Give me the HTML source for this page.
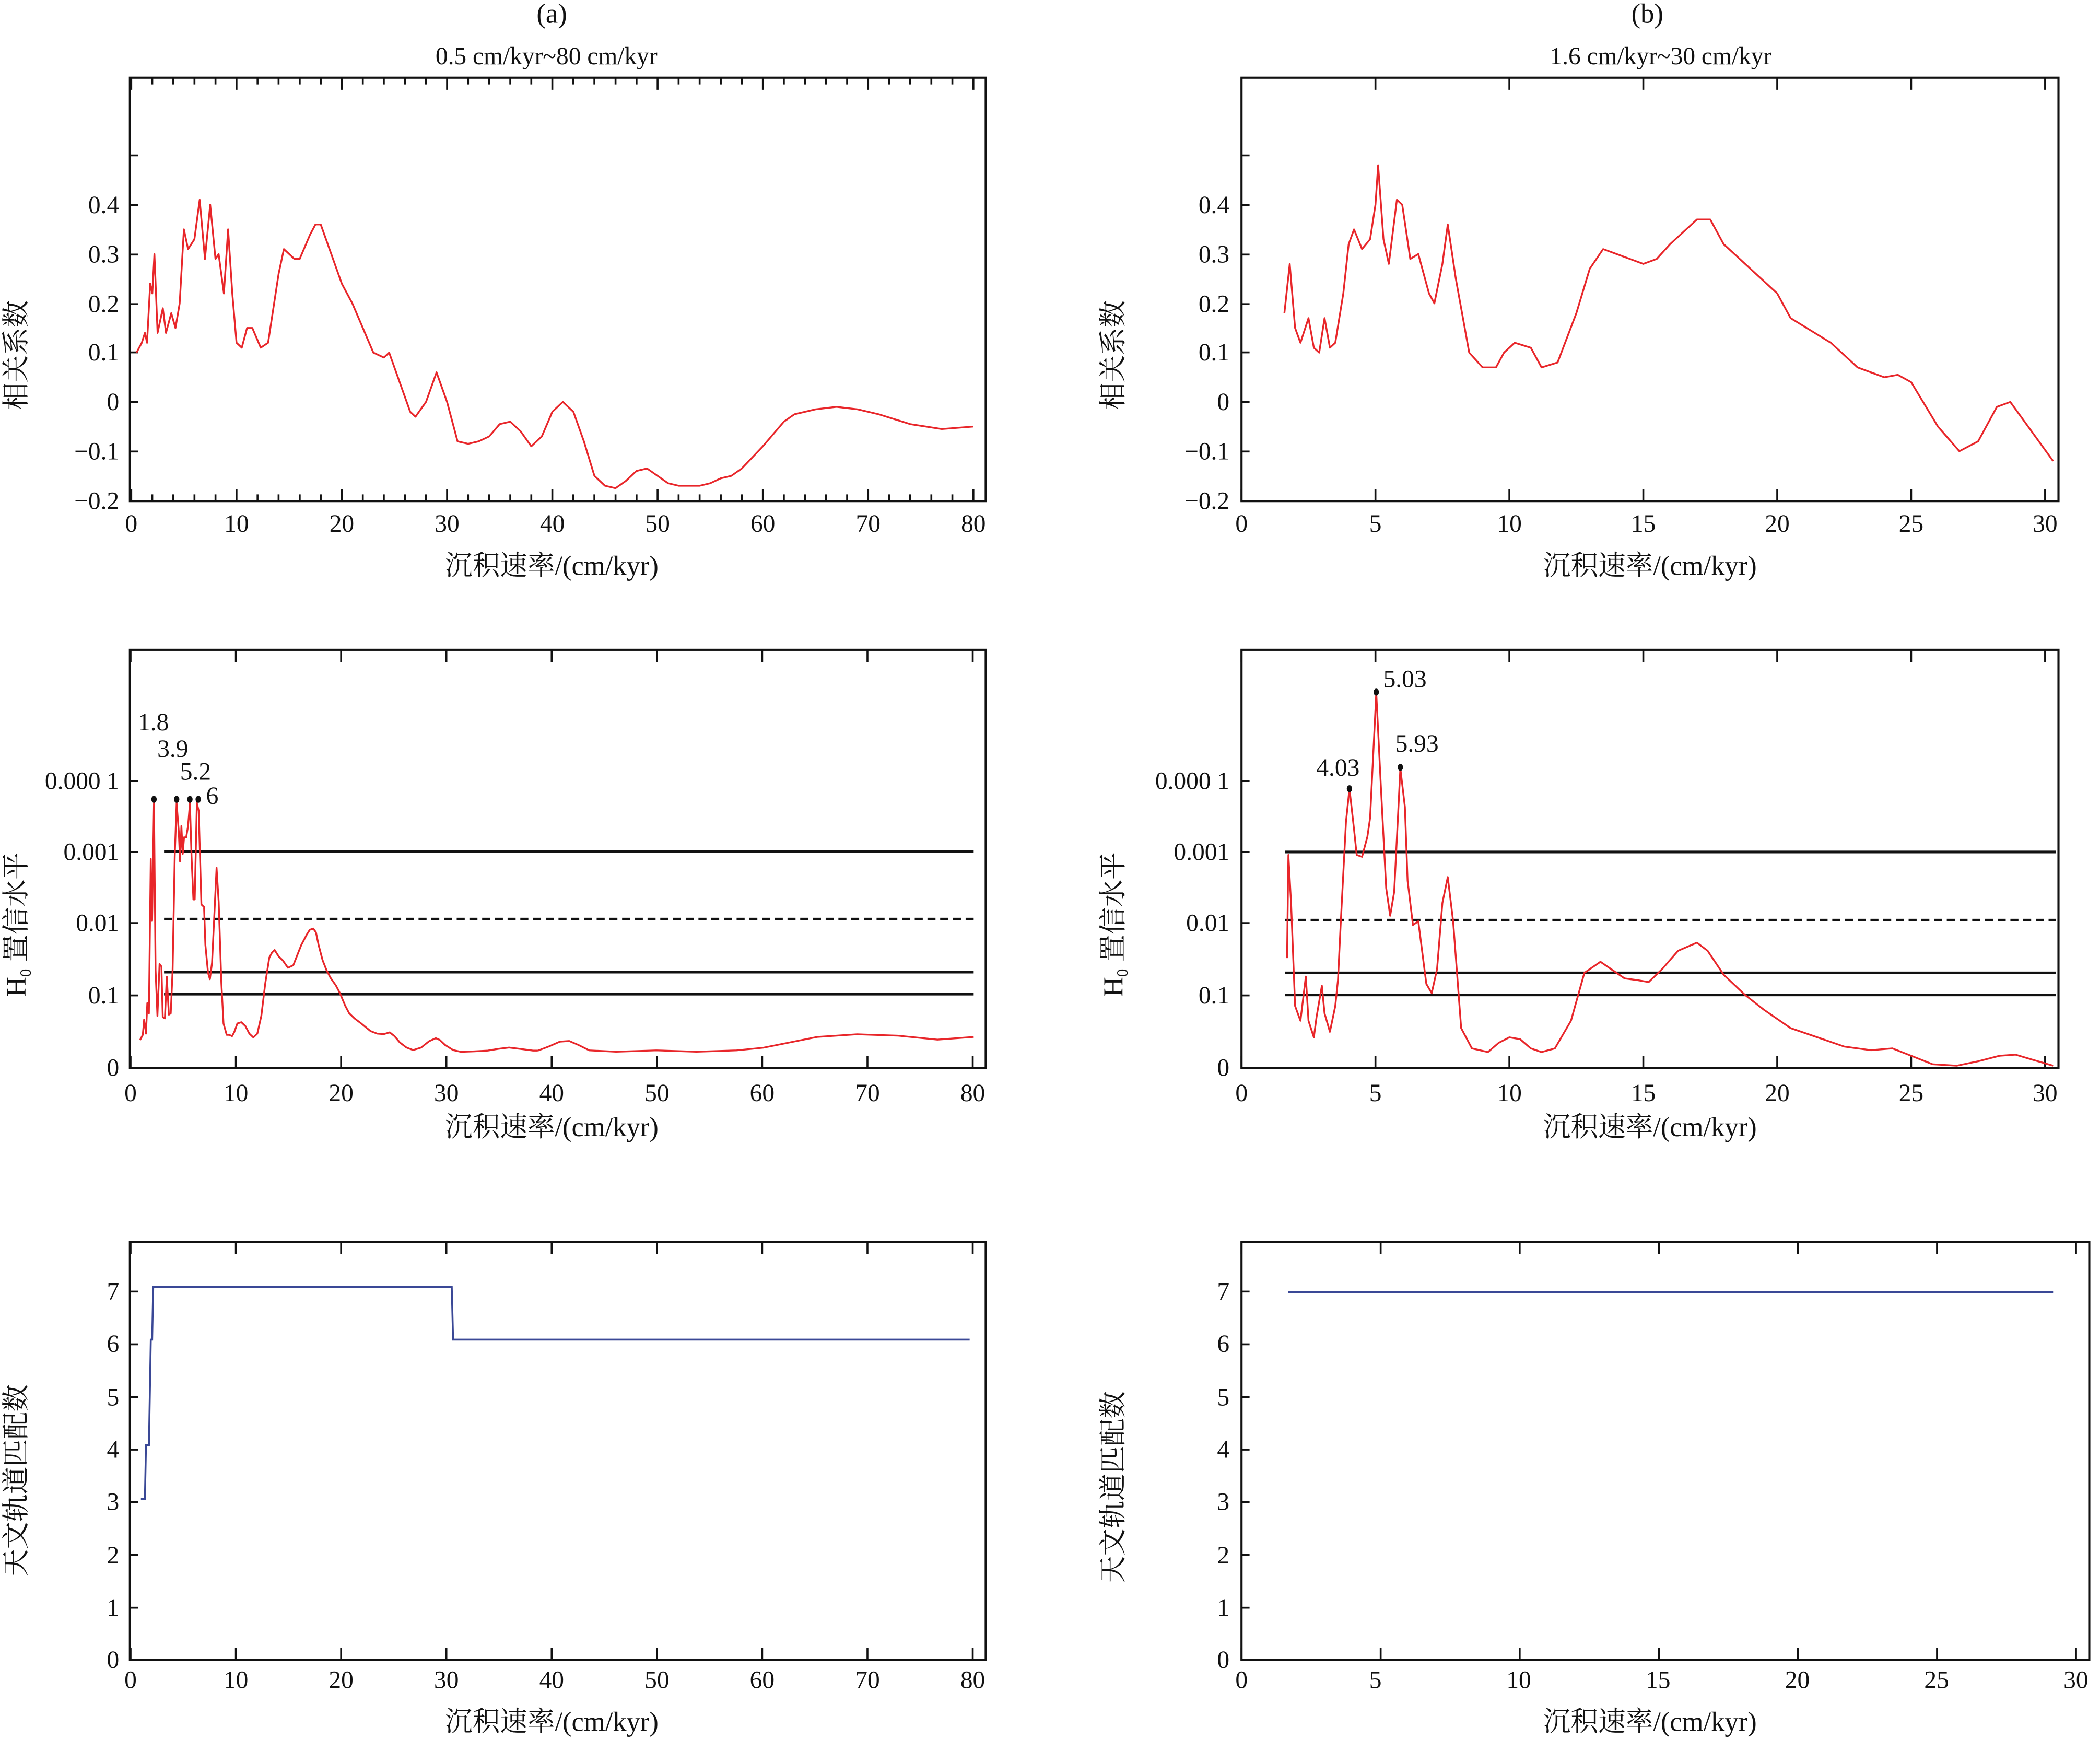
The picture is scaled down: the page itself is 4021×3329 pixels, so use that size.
<!DOCTYPE html>
<html><head><meta charset="utf-8"><style>
html,body{margin:0;padding:0;background:#fff;}
svg{display:block;}
text{font-family:"Liberation Serif","Noto Serif CJK SC","Noto Sans CJK SC",serif;fill:#111;}
.t{font-size:18.5px;}
.lbl{font-size:20.5px;}
.ax{fill:none;stroke:#111;stroke-width:1.6;}
.tk{stroke:#111;stroke-width:1.4;}
.red{fill:none;stroke:#e8262a;stroke-width:1.3;stroke-linejoin:round;}
.redv{fill:none;stroke:#e8262a;stroke-width:3.4;stroke-linejoin:round;}
.blue{fill:none;stroke:#3a4896;stroke-width:1.4;}
.hl{stroke:#111;stroke-width:2;}
</style></head><body>
<svg width="4021" height="3329" viewBox="0 0 1568 1298" preserveAspectRatio="none" xmlns="http://www.w3.org/2000/svg">
<text x="412" y="17" class="lbl" text-anchor="middle">(a)</text>
<text x="408" y="48" class="t" text-anchor="middle">0.5 cm/kyr~80 cm/kyr</text>
<text x="1230" y="17" class="lbl" text-anchor="middle">(b)</text>
<text x="1240" y="48" class="t" text-anchor="middle">1.6 cm/kyr~30 cm/kyr</text>

<!-- ===== A1 ===== -->
<rect x="97" y="58" width="639" height="316" class="ax"/>
<g class="tk">
<path d="M98 374v-9M176.6 374v-9M255.2 374v-9M333.8 374v-9M412.4 374v-9M491 374v-9M569.6 374v-9M648.2 374v-9M726.8 374v-9M98 58v9M176.6 58v9M255.2 58v9M333.8 58v9M412.4 58v9M491 58v9M569.6 58v9M648.2 58v9M726.8 58v9"/>
<path d="M113.7 374v-5M129.4 374v-5M145.2 374v-5M160.9 374v-5M192.3 374v-5M208 374v-5M223.8 374v-5M239.5 374v-5M270.9 374v-5M286.6 374v-5M302.4 374v-5M318.1 374v-5M349.5 374v-5M365.2 374v-5M381 374v-5M396.7 374v-5M428.1 374v-5M443.8 374v-5M459.6 374v-5M475.3 374v-5M506.7 374v-5M522.4 374v-5M538.2 374v-5M553.9 374v-5M585.3 374v-5M601 374v-5M616.8 374v-5M632.5 374v-5M663.9 374v-5M679.6 374v-5M695.4 374v-5M711.1 374v-5"/>
<path d="M113.7 58v5M129.4 58v5M145.2 58v5M160.9 58v5M192.3 58v5M208 58v5M223.8 58v5M239.5 58v5M270.9 58v5M286.6 58v5M302.4 58v5M318.1 58v5M349.5 58v5M365.2 58v5M381 58v5M396.7 58v5M428.1 58v5M443.8 58v5M459.6 58v5M475.3 58v5M506.7 58v5M522.4 58v5M538.2 58v5M553.9 58v5M585.3 58v5M601 58v5M616.8 58v5M632.5 58v5M663.9 58v5M679.6 58v5M695.4 58v5M711.1 58v5"/>
<path d="M97 116h6M97 153h6M97 190h6M97 227h6M97 263h6M97 300h6M97 337h6"/>
</g>
<g class="t" text-anchor="end">
<text x="89" y="159">0.4</text><text x="89" y="196">0.3</text><text x="89" y="233">0.2</text><text x="89" y="269">0.1</text><text x="89" y="306">0</text><text x="89" y="343">−0.1</text><text x="89" y="380">−0.2</text>
</g>
<g class="t" text-anchor="middle">
<text x="98" y="397">0</text><text x="176.6" y="397">10</text><text x="255.2" y="397">20</text><text x="333.8" y="397">30</text><text x="412.4" y="397">40</text><text x="491" y="397">50</text><text x="569.6" y="397">60</text><text x="648.2" y="397">70</text><text x="726.8" y="397">80</text>
</g>
<text x="412" y="429" class="lbl" text-anchor="middle">沉积速率/(cm/kyr)</text>
<text transform="translate(19,265) rotate(-90)" class="lbl" text-anchor="middle">相关系数</text>
<g transform="translate(98,300) scale(7.86,-368)">
<polyline class="redv" vector-effect="non-scaling-stroke" points="0.5,0.10 1,0.12 1.3,0.14 1.5,0.12 1.8,0.24 2,0.22 2.2,0.30 2.5,0.14 3,0.19 3.3,0.14 3.8,0.18 4.2,0.15 4.6,0.20 5,0.35 5.4,0.31 6,0.33 6.5,0.41 7,0.29 7.5,0.40 8,0.29 8.3,0.30 8.8,0.22 9.2,0.35 9.6,0.22 10,0.12 10.5,0.11 11,0.15 11.5,0.15 12.3,0.11 13,0.12 14,0.26 14.5,0.31 15,0.30 15.5,0.29 16,0.29 17,0.34 17.5,0.36 18,0.36 19,0.30 20,0.24 21,0.20 22,0.15 23,0.10 24,0.09 24.5,0.10 25.5,0.04 26.5,-0.02 27,-0.03 28,0.0 29,0.06 30,0.0 31,-0.08 32,-0.085 33,-0.08 34,-0.07 35,-0.045 36,-0.04 37,-0.06 38,-0.09 39,-0.07 40,-0.02 41,0.0 42,-0.02 43,-0.08 44,-0.15 45,-0.17 46,-0.175 47,-0.16 48,-0.14 49,-0.135 50,-0.15 51,-0.165 52,-0.17 54,-0.17 55,-0.165 56,-0.155 57,-0.15 58,-0.135 60,-0.09 62,-0.04 63,-0.025 65,-0.015 67,-0.01 69,-0.015 71,-0.025 74,-0.045 77,-0.055 80,-0.05"/>
</g>

<!-- ===== B1 ===== -->
<rect x="927" y="58" width="610" height="316" class="ax"/>
<g class="tk">
<path d="M927 374v-9M1027 374v-9M1127 374v-9M1227 374v-9M1327 374v-9M1427 374v-9M1527 374v-9M927 58v9M1027 58v9M1127 58v9M1227 58v9M1327 58v9M1427 58v9M1527 58v9"/>
<path d="M927 116h6M927 153h6M927 190h6M927 227h6M927 263h6M927 300h6M927 337h6"/>
</g>
<g class="t" text-anchor="end">
<text x="918" y="159">0.4</text><text x="918" y="196">0.3</text><text x="918" y="233">0.2</text><text x="918" y="269">0.1</text><text x="918" y="306">0</text><text x="918" y="343">−0.1</text><text x="918" y="380">−0.2</text>
</g>
<g class="t" text-anchor="middle">
<text x="927" y="397">0</text><text x="1027" y="397">5</text><text x="1127" y="397">10</text><text x="1227" y="397">15</text><text x="1327" y="397">20</text><text x="1427" y="397">25</text><text x="1527" y="397">30</text>
</g>
<text x="1232" y="429" class="lbl" text-anchor="middle">沉积速率/(cm/kyr)</text>
<text transform="translate(838,265) rotate(-90)" class="lbl" text-anchor="middle">相关系数</text>
<g transform="translate(927,300) scale(20,-368)">
<polyline class="redv" vector-effect="non-scaling-stroke" points="1.6,0.18 1.8,0.28 2,0.15 2.2,0.12 2.5,0.17 2.7,0.11 2.9,0.10 3.1,0.17 3.3,0.11 3.5,0.12 3.8,0.22 4,0.32 4.2,0.35 4.5,0.31 4.8,0.33 5.0,0.40 5.1,0.48 5.3,0.33 5.5,0.28 5.8,0.41 6.0,0.40 6.3,0.29 6.6,0.30 7,0.22 7.2,0.20 7.5,0.28 7.7,0.36 8,0.25 8.5,0.10 9,0.07 9.5,0.07 9.8,0.10 10.2,0.12 10.8,0.11 11.2,0.07 11.8,0.08 12.5,0.18 13,0.27 13.5,0.31 14,0.30 14.5,0.29 15,0.28 15.5,0.29 16,0.32 17,0.37 17.5,0.37 18,0.32 19,0.27 20,0.22 20.5,0.17 22,0.12 23,0.07 24,0.05 24.5,0.055 25,0.04 26,-0.05 26.8,-0.10 27.5,-0.08 28.2,-0.01 28.7,0.0 29.5,-0.06 30.3,-0.12"/>
</g>

<!-- ===== A2 ===== -->
<rect x="97" y="485" width="639" height="312" class="ax"/>
<g class="tk">
<path d="M97.5 797v-9M176.1 797v-9M254.7 797v-9M333.3 797v-9M411.9 797v-9M490.5 797v-9M569.1 797v-9M647.7 797v-9M726.3 797v-9M97.5 485v9M176.1 485v9M254.7 485v9M333.3 485v9M411.9 485v9M490.5 485v9M569.1 485v9M647.7 485v9M726.3 485v9"/>
<path d="M97 583h6M97 636h6M97 689h6M97 743h6"/>
</g>
<g class="t" text-anchor="end">
<text x="89" y="589">0.000 1</text><text x="89" y="642">0.001</text><text x="89" y="695">0.01</text><text x="89" y="749">0.1</text><text x="89" y="803">0</text>
</g>
<g class="t" text-anchor="middle">
<text x="97.5" y="822">0</text><text x="176.1" y="822">10</text><text x="254.7" y="822">20</text><text x="333.3" y="822">30</text><text x="411.9" y="822">40</text><text x="490.5" y="822">50</text><text x="569.1" y="822">60</text><text x="647.7" y="822">70</text><text x="726.3" y="822">80</text>
</g>
<text x="412" y="848" class="lbl" text-anchor="middle">沉积速率/(cm/kyr)</text>
<text transform="translate(19,690) rotate(-90)" class="lbl" text-anchor="middle">H<tspan font-size="12" dy="4">0</tspan><tspan dy="-4"> 置信水平</tspan></text>
<path class="hl" d="M122.5 635.5H727M122.5 725.6H727M122.5 742H727"/>
<path class="hl" stroke-dasharray="6,3.5" d="M122.5 686H727"/>
<g transform="translate(89.7,506.9) scale(0.1989,0.189)">
<polyline class="redv" vector-effect="non-scaling-stroke" points="75,1425 85,1405 90,1345 97,1400 102,1280 108,1320 115,710 120,955 127,490 133,1150 140,1330 148,1125 155,1135 160,1335 168,1340 175,1175 183,1325 190,1320 197,1150 205,700 212,490 220,600 225,720 230,580 235,690 240,625 248,625 255,580 262,490 268,700 275,870 280,870 288,490 295,520 305,890 315,900 320,1050 330,1160 337,1185 345,1120 355,900 362,745 370,880 380,1200 388,1360 400,1405 410,1405 420,1410 428,1395 440,1360 455,1355 470,1370 485,1400 500,1415 515,1400 530,1330 545,1200 560,1100 570,1080 580,1070 595,1095 610,1110 630,1140 650,1130 665,1090 680,1050 700,1010 712,990 725,985 735,1000 745,1050 760,1110 775,1150 790,1180 810,1210 825,1240 845,1290 860,1320 880,1340 905,1360 940,1390 965,1400 990,1402 1012,1395 1030,1410 1050,1435 1075,1455 1100,1465 1130,1455 1160,1430 1185,1418 1200,1425 1220,1445 1250,1465 1280,1472 1330,1470 1380,1467 1420,1460 1460,1455 1500,1460 1550,1467 1568,1467"/>
</g>
<polyline class="red" points="401.6,784.2 410,781 418,777.5 425,777 432,780 440,784 460,785 490,784 520,785 550,784 570,782 590,778 610,774 640,772 670,773 700,776 727,774"/>
<g fill="#111">
<ellipse cx="115" cy="596.6" rx="2" ry="2.6"/><ellipse cx="131.9" cy="596.6" rx="2" ry="2.6"/><ellipse cx="141.8" cy="596.6" rx="2" ry="2.6"/><ellipse cx="148" cy="596.6" rx="2" ry="2.6"/>
</g>
<g class="t" text-anchor="middle">
<text x="114.5" y="545">1.8</text><text x="129" y="565">3.9</text><text x="146" y="582">5.2</text><text x="158.5" y="600">6</text>
</g>

<!-- ===== B2 ===== -->
<rect x="927" y="485" width="610" height="312" class="ax"/>
<g class="tk">
<path d="M927 797v-9M1027 797v-9M1127 797v-9M1227 797v-9M1327 797v-9M1427 797v-9M1527 797v-9M927 485v9M1027 485v9M1127 485v9M1227 485v9M1327 485v9M1427 485v9M1527 485v9"/>
<path d="M927 583h6M927 636h6M927 689h6M927 743h6"/>
</g>
<g class="t" text-anchor="end">
<text x="918" y="589">0.000 1</text><text x="918" y="642">0.001</text><text x="918" y="695">0.01</text><text x="918" y="749">0.1</text><text x="918" y="803">0</text>
</g>
<g class="t" text-anchor="middle">
<text x="927" y="822">0</text><text x="1027" y="822">5</text><text x="1127" y="822">10</text><text x="1227" y="822">15</text><text x="1327" y="822">20</text><text x="1427" y="822">25</text><text x="1527" y="822">30</text>
</g>
<text x="1232" y="848" class="lbl" text-anchor="middle">沉积速率/(cm/kyr)</text>
<text transform="translate(838,690) rotate(-90)" class="lbl" text-anchor="middle">H<tspan font-size="12" dy="4">0</tspan><tspan dy="-4"> 置信水平</tspan></text>
<path class="hl" d="M959.6 635.9H1535M959.6 726.2H1535M959.6 742.6H1535"/>
<path class="hl" stroke-dasharray="6,3.5" d="M959.6 686.8H1535"/>
<g transform="translate(927,448.4) scale(20,0.275)">
<polyline class="redv" vector-effect="non-scaling-stroke" points="1.7,970 1.75,690 1.85,820 2.0,1100 2.2,1140 2.4,1020 2.5,1140 2.7,1185 2.8,1130 3.0,1045 3.1,1120 3.3,1170 3.5,1100 3.6,1030 3.7,880 3.9,600 4.03,510 4.2,620 4.3,690 4.5,695 4.7,640 4.8,590 5.03,250 5.2,500 5.4,780 5.55,855 5.7,790 5.93,455 6.1,560 6.2,760 6.4,880 6.6,870 6.9,1040 7.1,1065 7.3,1000 7.5,820 7.7,750 7.9,870 8.2,1160 8.6,1215 9.2,1225 9.6,1200 10,1185 10.4,1190 10.8,1215 11.2,1225 11.7,1215 12.3,1140 12.8,1010 13.4,980 13.8,1000 14.3,1025 14.8,1030 15.2,1035 15.7,1000 16.3,950 17,928 17.4,950 18,1015 18.8,1070 19.5,1110 20.5,1160 21.5,1185 22.5,1210 23.5,1220 24.3,1215 25,1235 25.8,1258 26.7,1262 27.5,1250 28.3,1235 28.9,1232 29.5,1245 30.3,1262"/>
</g>
<g fill="#111">
<ellipse cx="1007.6" cy="588.7" rx="2" ry="2.6"/><ellipse cx="1027.6" cy="516.6" rx="2" ry="2.6"/><ellipse cx="1045.6" cy="572.7" rx="2" ry="2.6"/>
</g>
<g class="t" text-anchor="middle">
<text x="999" y="579">4.03</text><text x="1049" y="513">5.03</text><text x="1058" y="561">5.93</text>
</g>

<!-- ===== A3 ===== -->
<rect x="97" y="927" width="639" height="312" class="ax"/>
<g class="tk">
<path d="M97.5 1239v-9M176.1 1239v-9M254.7 1239v-9M333.3 1239v-9M411.9 1239v-9M490.5 1239v-9M569.1 1239v-9M647.7 1239v-9M726.3 1239v-9M97.5 927v9M176.1 927v9M254.7 927v9M333.3 927v9M411.9 927v9M490.5 927v9M569.1 927v9M647.7 927v9M726.3 927v9"/>
<path d="M97 964h6M97 1003.4h6M97 1042.7h6M97 1082h6M97 1121.3h6M97 1160.6h6M97 1200h6"/>
</g>
<g class="t" text-anchor="end">
<text x="89" y="970">7</text><text x="89" y="1009">6</text><text x="89" y="1049">5</text><text x="89" y="1088">4</text><text x="89" y="1127">3</text><text x="89" y="1167">2</text><text x="89" y="1206">1</text><text x="89" y="1245">0</text>
</g>
<g class="t" text-anchor="middle">
<text x="97.5" y="1260">0</text><text x="176.1" y="1260">10</text><text x="254.7" y="1260">20</text><text x="333.3" y="1260">30</text><text x="411.9" y="1260">40</text><text x="490.5" y="1260">50</text><text x="569.1" y="1260">60</text><text x="647.7" y="1260">70</text><text x="726.3" y="1260">80</text>
</g>
<text x="412" y="1292" class="lbl" text-anchor="middle">沉积速率/(cm/kyr)</text>
<text transform="translate(19,1105) rotate(-90)" class="lbl" text-anchor="middle">天文轨道匹配数</text>
<polyline class="blue" points="105.2,1118.7 108.2,1118.7 109,1078.8 111.2,1078.8 112.6,999.9 113.6,999.9 114.4,960.4 337.3,960.4 338.3,999.9 724,999.9"/>

<!-- ===== B3 ===== -->
<rect x="927" y="927" width="633" height="312" class="ax"/>
<g class="tk">
<path d="M927 1239v-9M1030.9 1239v-9M1134.7 1239v-9M1238.6 1239v-9M1342.4 1239v-9M1446.3 1239v-9M1550.1 1239v-9M927 927v9M1030.9 927v9M1134.7 927v9M1238.6 927v9M1342.4 927v9M1446.3 927v9M1550.1 927v9"/>
<path d="M927 964h6M927 1003.4h6M927 1042.7h6M927 1082h6M927 1121.3h6M927 1160.6h6M927 1200h6"/>
</g>
<g class="t" text-anchor="end">
<text x="918" y="970">7</text><text x="918" y="1009">6</text><text x="918" y="1049">5</text><text x="918" y="1088">4</text><text x="918" y="1127">3</text><text x="918" y="1167">2</text><text x="918" y="1206">1</text><text x="918" y="1245">0</text>
</g>
<g class="t" text-anchor="middle">
<text x="927" y="1260">0</text><text x="1027" y="1260">5</text><text x="1134" y="1260">10</text><text x="1238" y="1260">15</text><text x="1342" y="1260">20</text><text x="1446" y="1260">25</text><text x="1550" y="1260">30</text>
</g>
<text x="1232" y="1292" class="lbl" text-anchor="middle">沉积速率/(cm/kyr)</text>
<text transform="translate(838,1110) rotate(-90)" class="lbl" text-anchor="middle">天文轨道匹配数</text>
<polyline class="blue" points="962,964.5 1533,964.5"/>
</svg>
</body></html>
